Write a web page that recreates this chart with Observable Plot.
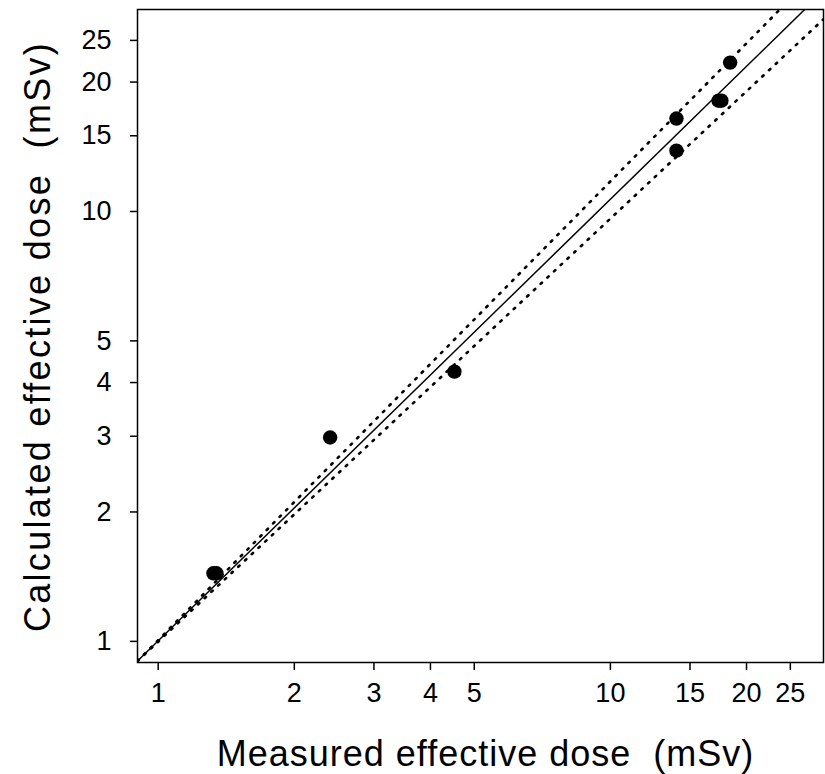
<!DOCTYPE html>
<html>
<head>
<meta charset="utf-8">
<script src="https://cdn.jsdelivr.net/npm/d3@7"></script>
<script src="https://cdn.jsdelivr.net/npm/@observablehq/plot@0.6"></script>
<style>
  html, body { margin: 0; padding: 0; background: #fff; }
</style>
</head>
<body>
<div id="chart"></div>
<script>
// Data (mSv)
const measured   = [1.325, 1.345, 2.40, 4.52, 14.0, 14.0, 17.35, 17.6, 18.4];
const calculated = [1.44, 1.44, 2.98, 4.24, 16.45, 13.85, 18.1, 18.1, 22.2];

// Reference line endpoints
const solidX = [0.9, 26.9];
const solidY = [0.9, 29.5];
const upperX = [0.9, 23.7];
const upperY = [0.9, 29.5];
const lowerX = [0.9, 29.6];
const lowerY = [0.9, 28.0];

const tickValues = [1, 2, 3, 4, 5, 10, 15, 20, 25];
const xLabel = "Measured effective dose\u00a0 (mSv)";
const yLabel = "Calculated effective dose\u00a0 (mSv)";

const points = measured.map((m, i) => ({m, c: calculated[i]}));
const toLine = (xs, ys) => xs.map((x, i) => ({x, y: ys[i]}));

const chart = Plot.plot({
  width: 825,
  height: 774,
  marginLeft: 137,
  marginRight: 2,
  marginTop: 9,
  marginBottom: 112,
  style: {fontFamily: "'Liberation Sans', Arial, sans-serif", background: "#fff", color: "#000", overflow: "visible"},
  x: {type: "log", domain: [0.9, 29.6]},
  y: {type: "log", domain: [0.893, 29.5]},
  marks: [
    Plot.line(toLine(solidX, solidY), {x: "x", y: "y", stroke: "black", strokeWidth: 1.5, clip: true}),
    Plot.line(toLine(upperX, upperY), {x: "x", y: "y", stroke: "black", strokeWidth: 2.6, strokeDasharray: "1.8 7.4", clip: true}),
    Plot.line(toLine(lowerX, lowerY), {x: "x", y: "y", stroke: "black", strokeWidth: 2.6, strokeDasharray: "1.8 7.4", clip: true}),
    Plot.dot(points, {x: "m", y: "c", r: 7.2, fill: "black", stroke: "none"}),
    Plot.frame({stroke: "black", strokeWidth: 1.5}),
    Plot.axisX({ticks: tickValues, tickFormat: d => String(d), tickSize: 8, tickPadding: 12, fontSize: 27, label: null, stroke: "black", strokeWidth: 1.5}),
    Plot.axisY({ticks: tickValues, tickFormat: d => String(d), tickSize: 7, tickPadding: 19, fontSize: 27, label: null, stroke: "black", strokeWidth: 1.5}),
    Plot.text([xLabel], {text: d => d, frameAnchor: "bottom", textAnchor: "middle", lineAnchor: "middle", dy: 92, dx: 5, fontSize: 36}),
    Plot.text([yLabel], {text: d => d, frameAnchor: "left", textAnchor: "middle", lineAnchor: "middle", rotate: -90, dx: -99, dy: 0.5, fontSize: 36})
  ]
});
document.getElementById("chart").appendChild(chart);
d3.select(chart).selectAll("text").filter(function() { return this.textContent.startsWith("Measured"); })
  .style("letter-spacing", "1px");
d3.select(chart).selectAll("text").filter(function() { return this.textContent.startsWith("Calculated"); })
  .style("letter-spacing", "2.3px");
</script>
</body>
</html>
